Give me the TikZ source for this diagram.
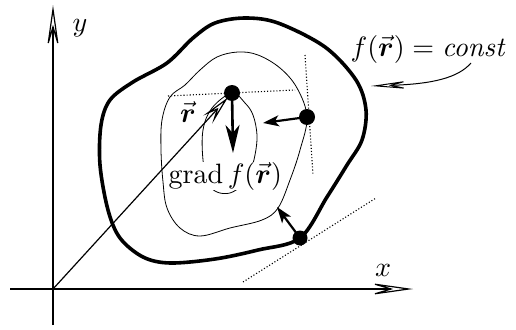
\documentclass[tikz,border=0pt]{standalone}
\usepackage{amsmath}
\usetikzlibrary{arrows.meta}
\tikzset{
  axisline/.style={line width=1.2pt, -{Stealth[open, length=46pt, width=13pt, inset=22pt]}},
  rline/.style={line width=1.2pt, shorten >=6pt, -{Stealth[open, length=30pt, width=12pt, inset=13pt]}},
  leaderline/.style={line width=1pt, -{Stealth[open, length=40pt, width=9pt, inset=18pt]}},
  pushline/.style={line width=2.2pt, -{Stealth[length=16pt, width=11pt, inset=4pt]}},
  levelline/.style={line width=0.8pt},
  tangentline/.style={dotted, line width=1.1pt},
  bigtext/.style={scale=2.8}
}
\begin{document}
\begin{tikzpicture}[x=1pt, y=-1pt, line join=round]
  \useasboundingbox (0,0) rectangle (516,329);
  % points on the level curves: P on the inner one, Q and R further out
  \coordinate (O) at (53,289);
  \coordinate (P) at (232,93);
  \coordinate (Q) at (307,117);
  \coordinate (R) at (300,238);
  % axes
  \coordinate (xstart) at (10,289);
  \coordinate (xend) at (413,289);
  \coordinate (ystart) at (53,325);
  \coordinate (yend) at (53,5);
  \draw[axisline] (xstart) -- (xend);
  \draw[axisline] (ystart) -- (yend);
  \node[bigtext] (xlabel) at (383,270) {$x$};
  \node[bigtext] (ylabel) at (80,28) {$y$};
  % the thick level curve f(r) = const
  \draw[line width=3.6pt] plot[smooth cycle, tension=0.55] coordinates {
    (100,165) (101,125) (110,100) (133,82) (167,63) (193,38) (215,23) (245,18)
    (278,23) (325,47) (356,80) (366,110) (362,140) (347,165) (327,197) (R)
    (258,250) (215,259) (170,263) (143,257) (120,238) (108,210)};
  % thinner level curves inside it
  \draw[levelline] plot[smooth cycle, tension=0.6] coordinates {
    (Q) (300,150) (290,180) (278,208) (262,220) (230,228) (200,236) (180,228)
    (167,208) (163,182) (161,150) (162,120) (170,97) (185,85) (200,70) (217,57)
    (238,52) (258,55) (280,68) (297,88)};
  \draw[levelline] plot[smooth cycle, tension=0.6] coordinates {
    (P) (245,103) (253,115) (257,135) (255,155) (250,172) (242,185) (230,193)
    (217,192) (208,183) (203,160) (203,130) (212,108)};
  \node[bigtext, anchor=base west, inner sep=0pt, fill=white] (gradlabel) at (168,183)
    {grad\,$f(\vec{\boldsymbol r})$};
  % tangents, dotted
  \draw[tangentline] (168,96) -- (295,90);
  \draw[tangentline] (305,55) -- (313,175);
  \draw[tangentline] (243,282) -- (376,198);
  % radius vector and the gradient
  \draw[rline] (O) -- (P);
  \node[bigtext] (rlabel) at (188,112) {$\vec{\boldsymbol r}$};
  \coordinate (gradtip) at (233,153);
  \draw[line width=2.6pt, -{Stealth[length=28pt, width=14pt, inset=8pt]}] (P) -- (gradtip);
  \coordinate (Qtip) at (263,123);
  \coordinate (Rtip) at (277,207);
  \draw[pushline] (Q) -- (Qtip);
  \draw[pushline] (R) -- (Rtip);
  \fill (P) circle (8pt);
  \fill (Q) circle (8pt);
  \fill (R) circle (7.5pt);
  % the label of the outer curve
  \node[bigtext, anchor=base west, inner sep=0pt] (constlabel) at (350,56)
    {$f(\vec{\boldsymbol r})=\mathit{const}$};
  \coordinate (leadstart) at (471,63);
  \coordinate (leadend) at (371,86);
  \draw[leaderline] (leadstart) .. controls (458,78) and (432,84) .. (leadend);
\end{tikzpicture}
\end{document}
